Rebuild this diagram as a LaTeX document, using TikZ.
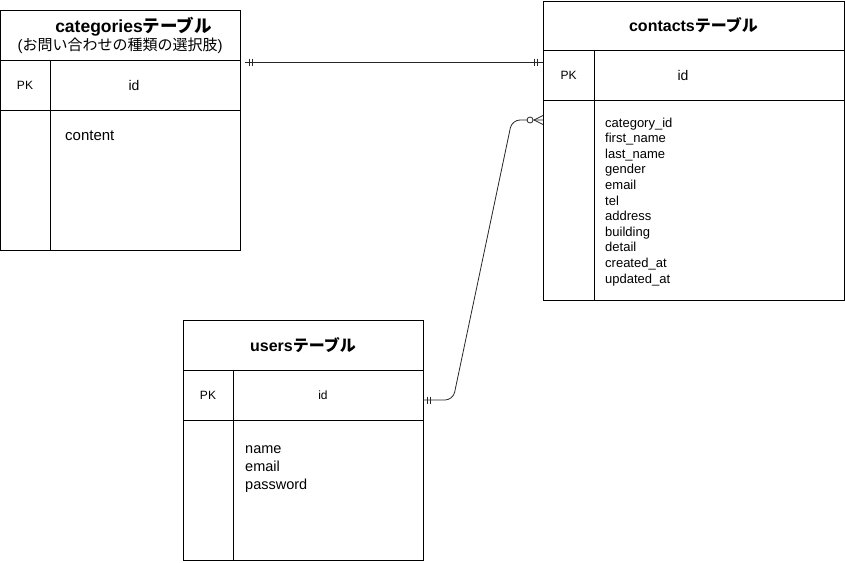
\documentclass[tikz,border=0pt]{standalone}
\usepackage{fontspec}
\setmainfont{Liberation Sans}
\newfontfamily\jp{Noto Sans CJK JP}

\begin{document}
\begin{tikzpicture}[x=1pt,y=-1pt]

	\useasboundingbox (0,0) rectangle (845,562);

	\tikzset{cell/.style = {draw, line width=0.8pt, inner sep=0pt, outer sep=0pt, anchor=north west}}
	\tikzset{head/.style = {cell, align=center, font=\fontsize{16}{18}\selectfont\bfseries}}
	\tikzset{pktxt/.style = {font=\fontsize{12}{14}\selectfont}}
	\tikzset{field/.style = {inner sep=0pt, anchor=north west, align=left}}
	\tikzset{rel/.style = {draw=black!85, line width=0.8pt}}
	\tikzset{bars/.pic = {\draw[rel] (0,-3.5) -- (0,3.5); \draw[rel] (3,-3.5) -- (3,3.5);}}

	% categories
	\node[head, minimum width=240, minimum height=50, font=\fontsize{15}{18}\selectfont\bfseries] (cat-head) at (0,10)
		{\hspace*{27pt}{\fontsize{17.5}{18}\selectfont categories{\jp テーブル}}\\{\mdseries({\jp お問い合わせの種類の選択肢})}};
	\node[cell, pktxt, minimum width=50, minimum height=50] (cat-pk) at (cat-head.south west) {PK};
	\node[cell, minimum width=190, minimum height=50] (cat-id) at (cat-pk.north east) {};
	\node[cell, minimum width=50, minimum height=140] (cat-side) at (cat-pk.south west) {};
	\node[cell, minimum width=190, minimum height=140] (cat-body) at (cat-side.north east) {};
	\node[font=\fontsize{14}{16}\selectfont] (cat-idtxt) at ([xshift=-11pt]cat-id.center) {id};
	\node[field, font=\fontsize{15}{18}\selectfont] (cat-fields) at ([xshift=15pt,yshift=-21pt]cat-body.north west) {content};

	% contacts
	\node[head, minimum width=301, minimum height=49] (con-head) at (543,1) {contacts{\jp テーブル}};
	\node[cell, pktxt, minimum width=51, minimum height=50] (con-pk) at (con-head.south west) {PK};
	\node[cell, minimum width=250, minimum height=50] (con-id) at (con-pk.north east) {};
	\node[cell, minimum width=51, minimum height=200] (con-side) at (con-pk.south west) {};
	\node[cell, minimum width=250, minimum height=200] (con-body) at (con-side.north east) {};
	\node[font=\fontsize{14}{16}\selectfont] (con-idtxt) at ([xshift=-36pt]con-id.center) {id};
	\node[field, font=\fontsize{13}{15.6}\selectfont] (con-fields) at ([xshift=11pt,yshift=-17.5pt]con-body.north west)
		{category\_id\\first\_name\\last\_name\\gender\\email\\tel\\address\\building\\detail\\created\_at\\updated\_at};

	% users
	\node[head, minimum width=240, minimum height=50] (usr-head) at (183,320) {users{\jp テーブル}};
	\node[cell, pktxt, minimum width=50, minimum height=50] (usr-pk) at (usr-head.south west) {PK};
	\node[cell, minimum width=190, minimum height=50] (usr-id) at (usr-pk.north east) {};
	\node[cell, minimum width=50, minimum height=140] (usr-side) at (usr-pk.south west) {};
	\node[cell, minimum width=190, minimum height=140] (usr-body) at (usr-side.north east) {};
	\node[font=\fontsize{12}{14}\selectfont] (usr-idtxt) at ([xshift=-5pt]usr-id.center) {id};
	\node[field, font=\fontsize{14.5}{18}\selectfont] (usr-fields) at ([xshift=12pt,yshift=-25.5pt]usr-body.north west)
		{name\\email\\password};

	% relations
	\coordinate (cat-out) at ([xshift=5pt,yshift=-2pt]cat-id.north east);
	\coordinate (con-one) at (con-pk.west |- cat-out);
	\draw[rel] (cat-out) -- (con-one);
	\pic at ([xshift=4pt]cat-out) {bars};
	\pic at ([xshift=-9pt]con-one) {bars};

	\coordinate (usr-out) at ([yshift=-5pt]usr-id.east);
	\coordinate (con-many) at ([yshift=-20pt]con-side.north west);
	\draw[rel, rounded corners=8pt] (usr-out) -- ++(30,0) -- ([xshift=-31pt]con-many) -- (con-many);
	\pic at ([xshift=4pt]usr-out) {bars};
	\draw[rel] (con-many) ++(-9,0) -- ++(9,-4.5);
	\draw[rel] (con-many) ++(-9,0) -- ++(9,4.5);
	\draw[rel, fill=white] ([xshift=-13pt]con-many) circle (3);

\end{tikzpicture}
\end{document}
